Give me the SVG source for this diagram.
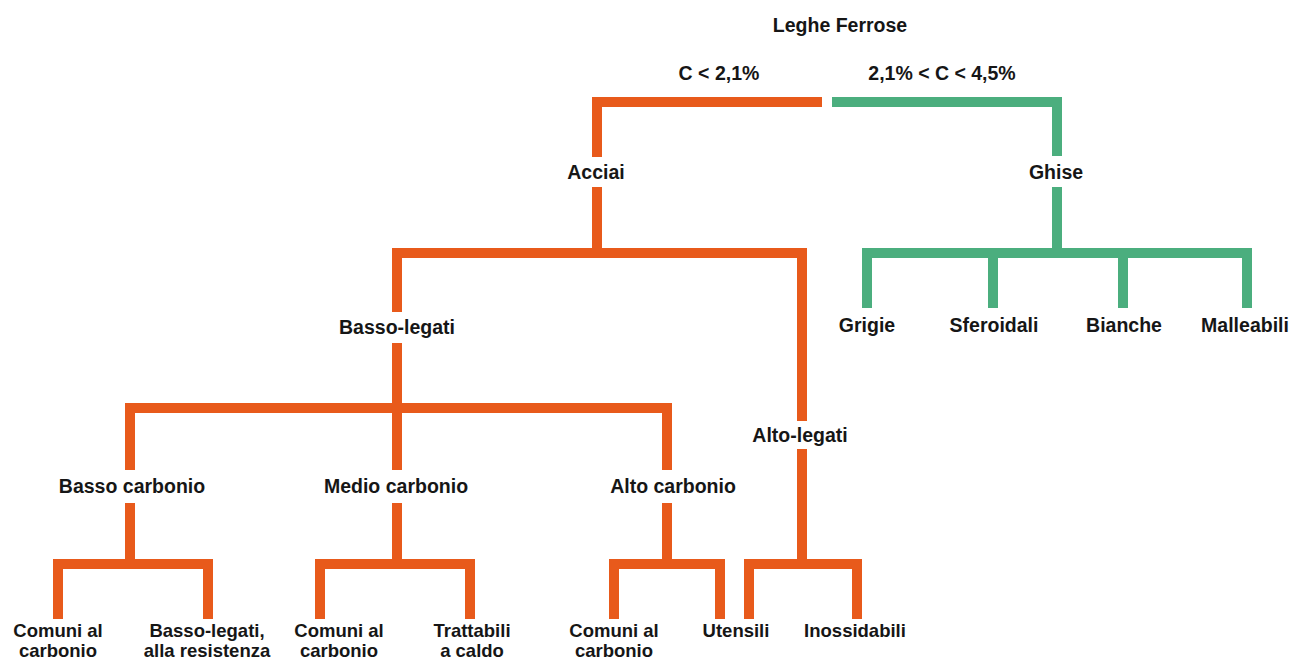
<svg xmlns="http://www.w3.org/2000/svg" width="1292" height="662" viewBox="0 0 1292 662">
<style>
.t{font-family:"Liberation Sans",Arial,sans-serif;font-weight:bold;font-size:19.5px;fill:#161616;text-anchor:middle}
.b{font-size:18.5px}
.o{fill:none;stroke:#E85A1B;stroke-width:10;stroke-linejoin:miter;stroke-linecap:butt}
.g{fill:none;stroke:#4BAE7E;stroke-width:10;stroke-linejoin:miter;stroke-linecap:butt}
</style>
<rect width="1292" height="662" fill="#ffffff"/>
<g id="connectors">
<path class="o" d="M597 157 V102 H822"/>
<path class="g" d="M832 102 H1057 V156"/>
<path class="o" d="M597 187 V253"/>
<path class="o" d="M397 312 V253 H802 V421"/>
<path class="g" d="M1057 187 V253"/>
<path class="g" d="M867 308 V253 H1247 V308"/>
<path class="g" d="M993 253 V308"/>
<path class="g" d="M1123 253 V308"/>
<path class="o" d="M397 343 V470"/>
<path class="o" d="M130 470 V408 H667 V470"/>
<path class="o" d="M130 503 V564"/>
<path class="o" d="M58 619 V564 H208 V619"/>
<path class="o" d="M397 503 V564"/>
<path class="o" d="M320 619 V564 H470 V619"/>
<path class="o" d="M667 503 V564"/>
<path class="o" d="M614 619 V564 H720 V619"/>
<path class="o" d="M802 449 V564"/>
<path class="o" d="M749 619 V564 H857 V619"/>
</g>
<g id="root"><text class="t" x="840" y="32">Leghe Ferrose</text></g>
<g id="cond-steel"><text class="t" x="719" y="80">C &lt; 2,1%</text></g>
<g id="cond-cast"><text class="t" x="942" y="80">2,1% &lt; C &lt; 4,5%</text></g>
<g id="acciai"><text class="t" x="596" y="179">Acciai</text></g>
<g id="ghise"><text class="t" x="1056" y="179">Ghise</text></g>
<g id="basso-legati"><text class="t" x="397" y="334">Basso-legati</text></g>
<g id="alto-legati"><text class="t" x="800" y="442">Alto-legati</text></g>
<g id="grigie"><text class="t" x="867" y="332">Grigie</text></g>
<g id="sferoidali"><text class="t" x="994" y="332">Sferoidali</text></g>
<g id="bianche"><text class="t" x="1124" y="332">Bianche</text></g>
<g id="malleabili"><text class="t" x="1245" y="332">Malleabili</text></g>
<g id="basso-carbonio"><text class="t" x="132" y="493">Basso carbonio</text></g>
<g id="medio-carbonio"><text class="t" x="396" y="493">Medio carbonio</text></g>
<g id="alto-carbonio"><text class="t" x="673" y="493">Alto carbonio</text></g>
<g id="comuni-1"><text class="t b" x="58" y="637">Comuni al</text><text class="t b" x="58" y="657">carbonio</text></g>
<g id="basso-legati-res"><text class="t b" x="207" y="637">Basso-legati,</text><text class="t b" x="207" y="657">alla resistenza</text></g>
<g id="comuni-2"><text class="t b" x="339" y="637">Comuni al</text><text class="t b" x="339" y="657">carbonio</text></g>
<g id="trattabili"><text class="t b" x="472" y="637">Trattabili</text><text class="t b" x="472" y="657">a caldo</text></g>
<g id="comuni-3"><text class="t b" x="614" y="637">Comuni al</text><text class="t b" x="614" y="657">carbonio</text></g>
<g id="utensili"><text class="t b" x="736" y="637">Utensili</text></g>
<g id="inossidabili"><text class="t b" x="855" y="637">Inossidabili</text></g>
</svg>
